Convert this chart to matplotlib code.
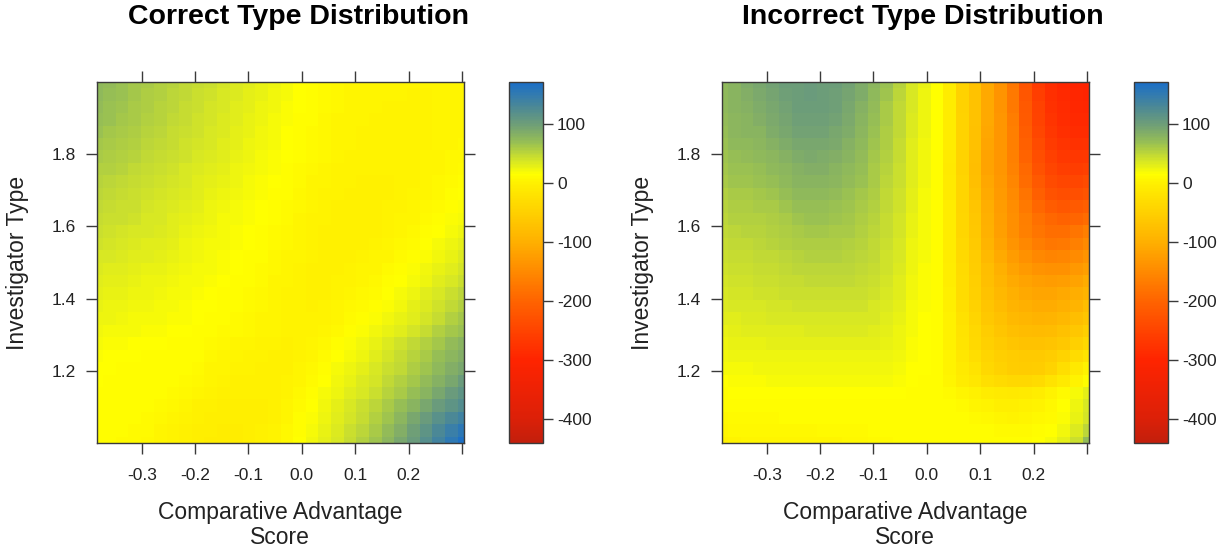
import numpy as np
import matplotlib
matplotlib.use("Agg")
import matplotlib.pyplot as plt
from matplotlib.colors import LinearSegmentedColormap, Normalize
from matplotlib.cm import ScalarMappable

plt.rcParams['font.family'] = ['Liberation Sans', 'DejaVu Sans']
plt.rcParams['axes.unicode_minus'] = False

# grid centres (comparative advantage score / investigator type)
x_scores = [-0.384, -0.360, -0.337, -0.313, -0.289, -0.265, -0.242, -0.218, -0.194, -0.171,
            -0.147, -0.123, -0.099, -0.076, -0.052, -0.028, -0.005, 0.019, 0.043, 0.067,
            0.090, 0.114, 0.138, 0.161, 0.185, 0.209, 0.233, 0.256, 0.280, 0.304]
y_types = [1.000, 1.034, 1.069, 1.103, 1.138, 1.172, 1.207, 1.241, 1.276, 1.310,
           1.345, 1.379, 1.414, 1.448, 1.483, 1.517, 1.552, 1.586, 1.621, 1.655,
           1.690, 1.724, 1.759, 1.793, 1.828, 1.862, 1.897, 1.931, 1.966, 2.000]

# rows listed from top (y = 2.0) to bottom (y = 1.0)
correct_vals = [
    [75, 71, 67, 63, 59, 55, 52, 48, 45, 42, 38, 34, 30, 27, 23, 19, 15, 12, 10, 8, 6, 5, 5, 4, 4, 4, 4, 4, 4, 4],
    [74, 70, 66, 62, 58, 54, 51, 47, 44, 41, 37, 33, 29, 26, 22, 18, 15, 12, 9, 7, 5, 5, 4, 4, 4, 3, 3, 4, 4, 4],
    [72, 68, 64, 60, 57, 53, 50, 46, 43, 39, 36, 32, 28, 25, 21, 17, 14, 11, 9, 7, 5, 4, 4, 3, 3, 3, 3, 4, 4, 5],
    [69, 66, 62, 59, 55, 52, 48, 45, 41, 38, 34, 30, 27, 24, 20, 16, 13, 11, 8, 6, 5, 4, 3, 3, 3, 3, 3, 4, 5, 5],
    [66, 63, 60, 57, 53, 50, 46, 43, 40, 36, 33, 29, 26, 22, 19, 15, 13, 10, 8, 6, 4, 3, 3, 2, 2, 3, 3, 4, 5, 6],
    [63, 60, 57, 54, 51, 48, 45, 41, 38, 35, 31, 28, 25, 21, 18, 15, 12, 10, 7, 5, 4, 3, 2, 2, 2, 3, 3, 4, 6, 7],
    [60, 57, 55, 52, 49, 46, 43, 40, 37, 33, 30, 26, 23, 20, 17, 14, 11, 9, 7, 4, 3, 2, 2, 2, 2, 3, 4, 5, 7, 8],
    [56, 54, 52, 49, 46, 43, 40, 37, 34, 31, 28, 25, 22, 19, 16, 13, 10, 8, 5, 3, 2, 2, 2, 2, 2, 3, 4, 6, 8, 10],
    [53, 51, 49, 46, 44, 41, 38, 35, 32, 29, 26, 23, 20, 17, 14, 12, 9, 6, 4, 2, 2, 1, 1, 1, 2, 3, 5, 7, 9, 12],
    [50, 48, 46, 44, 41, 39, 36, 33, 30, 27, 24, 21, 18, 16, 13, 11, 8, 5, 3, 2, 1, 1, 1, 1, 2, 4, 6, 8, 11, 14],
    [48, 46, 44, 42, 39, 37, 34, 31, 28, 25, 22, 19, 17, 15, 12, 10, 7, 4, 2, 1, 1, 1, 1, 2, 3, 5, 7, 10, 13, 17],
    [46, 44, 42, 40, 37, 35, 32, 29, 26, 23, 20, 18, 16, 14, 11, 9, 6, 3, 2, 1, 0, 0, 1, 2, 4, 6, 9, 12, 16, 20],
    [43, 41, 39, 37, 35, 33, 30, 27, 24, 21, 19, 17, 15, 13, 10, 8, 5, 3, 1, 0, 0, 0, 1, 3, 5, 8, 11, 15, 19, 24],
    [40, 38, 36, 34, 32, 30, 28, 25, 22, 20, 18, 16, 14, 12, 9, 7, 4, 2, 1, 0, 0, 1, 2, 4, 7, 10, 14, 18, 23, 28],
    [36, 35, 33, 32, 30, 28, 26, 23, 21, 19, 17, 15, 13, 11, 8, 6, 4, 2, 0, 0, 1, 2, 4, 6, 9, 13, 17, 22, 27, 33],
    [33, 32, 30, 29, 27, 26, 24, 22, 20, 18, 16, 14, 12, 10, 7, 5, 3, 1, 0, 1, 2, 4, 6, 9, 12, 16, 21, 26, 32, 38],
    [30, 29, 28, 27, 25, 24, 22, 20, 18, 16, 14, 13, 11, 9, 6, 4, 2, 1, 0, 2, 3, 5, 8, 11, 15, 20, 25, 31, 37, 44],
    [28, 27, 26, 25, 23, 22, 20, 18, 17, 15, 13, 12, 10, 8, 5, 3, 2, 1, 1, 3, 5, 7, 10, 14, 19, 24, 30, 36, 43, 50],
    [26, 25, 24, 22, 21, 20, 18, 17, 15, 14, 12, 11, 9, 7, 5, 3, 2, 1, 2, 4, 7, 10, 13, 17, 22, 28, 34, 41, 49, 56],
    [24, 23, 22, 20, 19, 18, 17, 16, 14, 13, 11, 10, 8, 6, 4, 3, 2, 2, 3, 6, 9, 12, 16, 21, 26, 32, 39, 46, 54, 62],
    [21, 20, 19, 18, 17, 16, 15, 14, 13, 12, 10, 9, 7, 5, 4, 2, 2, 3, 5, 8, 12, 16, 21, 26, 32, 39, 46, 54, 62, 68],
    [18, 17, 16, 15, 15, 14, 13, 13, 12, 10, 8, 6, 4, 3, 2, 1, 2, 4, 8, 12, 17, 22, 27, 33, 40, 47, 55, 63, 71, 78],
    [16, 15, 14, 14, 13, 13, 12, 12, 11, 8, 6, 4, 3, 2, 1, 1, 2, 6, 10, 15, 20, 25, 31, 38, 45, 52, 60, 69, 77, 84],
    [15, 14, 13, 13, 12, 12, 12, 11, 9, 6, 4, 3, 2, 1, 0, 1, 4, 8, 13, 19, 24, 29, 35, 42, 49, 57, 65, 74, 83, 92],
    [14, 13, 13, 12, 12, 11, 11, 9, 7, 4, 2, 1, 0, 0, 0, 2, 5, 10, 15, 21, 27, 33, 39, 47, 55, 63, 72, 82, 92, 103],
    [13, 13, 12, 12, 11, 11, 9, 7, 4, 2, 0, -1, -1, -1, 0, 3, 7, 12, 18, 24, 30, 37, 44, 52, 61, 70, 80, 91, 103, 113],
    [13, 12, 12, 11, 11, 10, 7, 4, 1, -1, -2, -2, -2, -2, 0, 4, 9, 15, 21, 28, 35, 42, 50, 59, 69, 79, 90, 102, 113, 123],
    [12, 12, 11, 11, 10, 8, 5, 2, -1, -2, -3, -3, -3, -2, 1, 6, 11, 17, 24, 31, 38, 46, 55, 65, 77, 90, 104, 118, 130, 138],
    [12, 11, 11, 10, 9, 6, 3, 0, -2, -3, -4, -4, -3, -1, 2, 7, 13, 19, 26, 34, 42, 51, 60, 71, 84, 98, 113, 128, 143, 156],
    [11, 11, 10, 9, 8, 5, 2, -1, -3, -4, -5, -4, -3, 0, 3, 8, 14, 21, 29, 37, 46, 55, 65, 77, 90, 104, 120, 137, 154, 168],
]

incorrect_vals = [
    [75, 80, 85, 90, 95, 100, 101, 102, 101, 100, 95, 86, 76, 66, 52, 37, 26, 14, -6, -48, -72, -110, -138, -175, -225, -262, -285, -294, -298, -300],
    [74, 79, 84, 89, 94, 99, 101, 102, 101, 99, 94, 85, 75, 64, 51, 36, 25, 14, -6, -47, -72, -110, -137, -173, -222, -258, -282, -292, -296, -298],
    [73, 78, 82, 86, 91, 96, 100, 101, 100, 97, 91, 82, 72, 61, 49, 35, 24, 14, -6, -47, -72, -110, -136, -171, -218, -254, -279, -290, -294, -296],
    [72, 77, 80, 83, 88, 93, 98, 99, 98, 95, 88, 79, 69, 59, 48, 34, 24, 14, -6, -46, -72, -110, -135, -168, -214, -250, -275, -287, -291, -292],
    [70, 76, 78, 80, 85, 90, 95, 96, 95, 92, 86, 77, 67, 58, 47, 33, 23, 14, -6, -46, -74, -112, -135, -166, -210, -245, -270, -282, -286, -286],
    [68, 73, 75, 77, 81, 86, 91, 92, 91, 88, 82, 74, 65, 57, 46, 32, 22, 14, -7, -45, -75, -114, -135, -164, -205, -240, -263, -276, -280, -278],
    [65, 70, 71, 73, 77, 82, 87, 88, 87, 84, 79, 72, 63, 55, 45, 32, 22, 13, -9, -45, -77, -116, -135, -162, -200, -234, -256, -268, -270, -267],
    [62, 67, 68, 70, 73, 77, 82, 84, 83, 80, 75, 69, 61, 53, 44, 31, 21, 13, -11, -45, -79, -117, -135, -160, -194, -227, -248, -258, -260, -256],
    [60, 64, 65, 66, 69, 73, 78, 80, 79, 76, 72, 66, 59, 51, 43, 30, 21, 13, -10, -44, -76, -112, -132, -156, -188, -218, -238, -247, -246, -240],
    [56, 60, 61, 62, 65, 69, 73, 75, 74, 72, 68, 63, 57, 49, 41, 29, 20, 13, -9, -43, -72, -107, -128, -151, -180, -207, -226, -234, -231, -224],
    [53, 57, 58, 59, 61, 65, 69, 70, 70, 68, 65, 60, 55, 48, 40, 28, 20, 13, -8, -42, -68, -103, -126, -146, -172, -196, -213, -220, -216, -207],
    [50, 54, 55, 56, 58, 61, 64, 66, 66, 64, 62, 58, 53, 46, 39, 27, 19, 13, -8, -41, -65, -100, -124, -144, -166, -183, -196, -204, -198, -188],
    [47, 51, 52, 53, 55, 57, 60, 62, 62, 61, 59, 55, 51, 45, 38, 26, 19, 13, -8, -40, -62, -98, -123, -143, -162, -178, -187, -186, -176, -166],
    [45, 48, 49, 50, 52, 54, 57, 58, 58, 57, 56, 53, 49, 43, 36, 25, 18, 13, -7, -38, -60, -92, -116, -136, -153, -167, -174, -172, -162, -151],
    [42, 45, 46, 47, 49, 51, 53, 54, 54, 54, 53, 50, 47, 41, 35, 24, 18, 13, -6, -36, -58, -86, -108, -127, -142, -153, -158, -156, -148, -137],
    [40, 43, 44, 45, 46, 48, 50, 51, 51, 51, 50, 48, 45, 40, 33, 23, 17, 13, -5, -34, -56, -80, -100, -117, -130, -139, -142, -140, -132, -121],
    [38, 40, 41, 42, 43, 45, 46, 47, 47, 47, 47, 45, 42, 38, 32, 22, 17, 13, -4, -32, -53, -76, -94, -108, -118, -125, -127, -124, -116, -105],
    [36, 38, 39, 40, 41, 42, 43, 44, 44, 44, 44, 42, 40, 36, 30, 21, 16, 13, -3, -30, -50, -71, -88, -101, -109, -114, -115, -111, -103, -92],
    [33, 35, 36, 37, 38, 39, 40, 40, 41, 41, 41, 40, 37, 34, 29, 20, 16, 13, -2, -28, -47, -66, -81, -93, -101, -106, -106, -101, -92, -80],
    [30, 32, 33, 34, 35, 36, 36, 37, 37, 37, 37, 36, 35, 32, 27, 19, 15, 13, -1, -25, -43, -61, -74, -85, -91, -95, -94, -88, -78, -66],
    [27, 29, 30, 30, 31, 32, 32, 33, 33, 33, 33, 33, 32, 29, 25, 18, 15, 13, 0, -22, -39, -55, -67, -76, -81, -84, -82, -75, -64, -52],
    [24, 26, 27, 27, 28, 28, 29, 29, 29, 29, 29, 29, 28, 27, 23, 17, 14, 13, 1, -19, -35, -49, -60, -67, -71, -72, -69, -62, -50, -38],
    [21, 23, 23, 24, 24, 25, 25, 25, 25, 25, 25, 25, 25, 24, 21, 16, 14, 13, 2, -15, -29, -43, -52, -58, -60, -60, -56, -45, -32, -20],
    [18, 20, 20, 21, 21, 21, 21, 22, 22, 22, 22, 22, 22, 21, 19, 15, 14, 13, 3, -10, -22, -38, -48, -55, -58, -55, -45, -28, -12, 2],
    [15, 17, 17, 17, 18, 18, 18, 18, 18, 18, 18, 18, 18, 18, 16, 14, 13, 13, 6, -6, -15, -26, -34, -38, -38, -33, -22, -9, 3, 12],
    [13, 14, 14, 15, 15, 15, 15, 15, 15, 15, 15, 15, 15, 15, 14, 13, 13, 13, 9, 4, 0, -6, -10, -12, -10, -5, 2, 10, 18, 28],
    [11, 12, 12, 12, 12, 13, 13, 13, 13, 13, 13, 13, 13, 13, 13, 13, 13, 13, 12, 10, 6, 2, -2, -3, -1, 3, 8, 15, 24, 36],
    [8, 9, 10, 10, 10, 11, 11, 11, 11, 11, 12, 12, 12, 12, 12, 12, 12, 12, 12, 12, 10, 7, 4, 3, 5, 7, 10, 16, 26, 38],
    [5, 7, 7, 8, 8, 8, 8, 8, 9, 9, 10, 10, 11, 11, 12, 12, 12, 12, 12, 12, 12, 11, 10, 9, 9, 11, 14, 22, 34, 50],
    [1, 3, 4, 4, 4, 4, 4, 5, 5, 6, 7, 8, 9, 10, 11, 12, 12, 13, 13, 13, 13, 12, 12, 12, 13, 15, 18, 28, 44, 72],
]

titles = ["Correct Type Distribution", "Incorrect Type Distribution"]
x_ticks = [-0.3, -0.2, -0.1, 0.0, 0.1, 0.2, 0.3]
x_ticklabels = ["-0.3", "-0.2", "-0.1", "0.0", "0.1", "0.2", ""]
y_ticks = [1.2, 1.4, 1.6, 1.8]
y_ticklabels = ["1.2", "1.4", "1.6", "1.8"]
cbar_ticks = [-400, -300, -200, -100, 0, 100]

vmin, vmax = -441, 171
stops = [(-441, "#c21f0c"), (-400, "#dc2008"), (-300, "#ff2400"), (-200, "#ff6400"),
         (-100, "#ffb000"), (-50, "#ffd000"), (0, "#fff000"), (15, "#ffff00"),
         (40, "#d2e428"), (70, "#96be55"), (100, "#6e9e78"), (130, "#4b8896"),
         (171, "#1a6ec8")]
cmap = LinearSegmentedColormap.from_list(
    "lev", [((v - vmin) / (vmax - vmin), c) for v, c in stops])
norm = Normalize(vmin=vmin, vmax=vmax)

W, H = 1231, 550
fig = plt.figure(figsize=(W / 100, H / 100), dpi=100)


def box(l, t, r, b):
    return [l / W, 1 - b / H, (r - l) / W, (b - t) / H]


edge = "#3a3a3a"
for k, (vals, title) in enumerate(zip([correct_vals, incorrect_vals], titles)):
    off = 625 * k
    ax = fig.add_axes(box(97 + off, 82, 464 + off, 443))
    z = np.array(vals)[::-1]
    ax.pcolormesh(x_scores, y_types, z, cmap=cmap, norm=norm, shading="nearest")
    ax.set_xlim(x_scores[0], x_scores[-1])
    ax.set_ylim(y_types[0], y_types[-1])
    ax.set_xticks(x_ticks)
    ax.set_xticklabels(x_ticklabels)
    ax.set_yticks(y_ticks)
    ax.set_yticklabels(y_ticklabels)
    ax.tick_params(direction="out", length=8, width=1, color=edge, labelsize=12.5,
                   labelcolor="#222222", pad=7, top=True, right=True)
    ax.tick_params(axis="x", pad=10)
    for s in ax.spines.values():
        s.set_color(edge)
        s.set_linewidth(1)

    cax = fig.add_axes(box(509 + off, 82, 543 + off, 443))
    sm = ScalarMappable(norm=norm, cmap=cmap)
    cb = fig.colorbar(sm, cax=cax, ticks=cbar_ticks)
    cb.outline.set_edgecolor(edge)
    cb.outline.set_linewidth(1)
    cax.tick_params(direction="out", length=7, width=1, color=edge, labelsize=12.5,
                    labelcolor="#222222", pad=3)

    fig.text((298 + off) / W, 1 - 17 / H, title, ha="center", va="center",
             fontsize=20.5, fontweight="bold")
    fig.text((280 + off) / W, 1 - 525 / H, "Comparative Advantage\nScore",
             ha="center", va="center", fontsize=16.5, linespacing=1.15, color="#222222")
    fig.text((17.5 + off) / W, 1 - 263 / H, "Investigator Type", ha="center",
             va="center", rotation=90, fontsize=16.5, color="#222222")

fig.savefig("out.png", dpi=100, facecolor="white")
